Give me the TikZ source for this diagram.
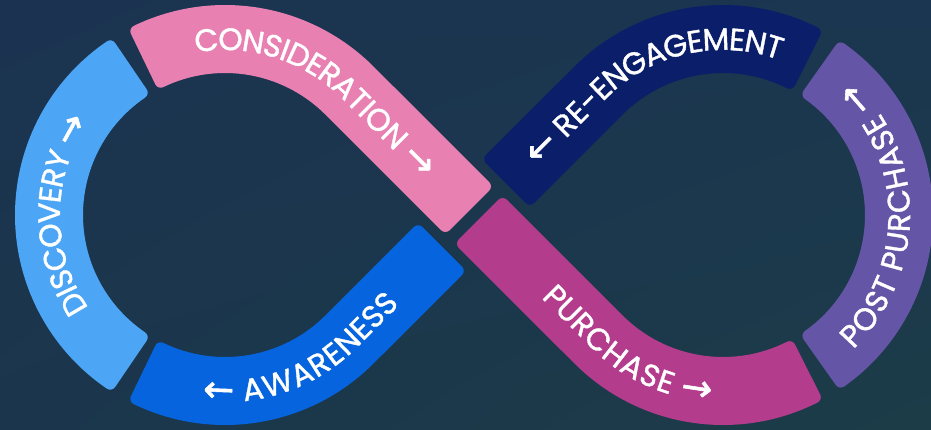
\documentclass[tikz,border=0pt]{standalone}
\usepackage{fontspec}
\setmainfont{Poppins}
\newfontfamily\bandfont{Poppins}[FakeBold=1.2]
\newfontfamily\arrowfont{DejaVu Sans}[FakeBold=1.5]
\usepackage{tikz}
\usetikzlibrary{calc}
\usetikzlibrary{shadings}
\usetikzlibrary{decorations.text}

\definecolor{bgtl}{RGB}{27,51,80}
\definecolor{bgtr}{RGB}{27,54,80}
\definecolor{bgbl}{RGB}{27,54,76}
\definecolor{bgbr}{RGB}{28,60,72}
\definecolor{discovery}{RGB}{76,166,245}
\definecolor{consideration}{RGB}{232,129,178}
\definecolor{awareness}{RGB}{6,100,222}
\definecolor{purchase}{RGB}{180,60,140}
\definecolor{reengage}{RGB}{10,30,106}
\definecolor{postpurchase}{RGB}{101,85,166}

\newcommand\lbl{\color{white}\fontsize{31}{31}\bandfont}
\newcommand\arr{\color{white}\fontsize{37}{37}\arrowfont}

\tikzset{
  band/.style={fill=#1,draw=#1,line width=12pt,line join=round},
  bandtext/.style={decorate,decoration={text along path,text align=center,raise=-11pt,text={#1}}}
}

\begin{document}
\begin{tikzpicture}[line cap=round,line join=round,x=1pt,y=1pt]
\useasboundingbox (-474,-214) rectangle (457,215);
\shade[upper left=bgtl,upper right=bgtr,lower left=bgbl,lower right=bgbr] (-474,-214) rectangle (457,215);
\coordinate (O) at (0,0);
\coordinate (L) at (-249,0);
\coordinate (R) at (249,0);
% left loop
\filldraw[band=discovery] ($(L)+(235.75:204)$) arc[start angle=235.75,end angle=124.25,radius=204]
  -- ($(L)+(124.25:148)$) arc[start angle=124.25,end angle=235.75,radius=148] -- cycle;
\filldraw[band=consideration] ($(L)+(115.75:204)$) arc[start angle=115.75,end angle=45,radius=204]
  -- ($(135:12.5)+(45:28)$) -- ($(135:12.5)+(225:28)$)
  -- ($(L)+(45:148)$) arc[start angle=45,end angle=115.75,radius=148] -- cycle;
\filldraw[band=awareness] ($(L)+(244.25:204)$) arc[start angle=244.25,end angle=315,radius=204]
  -- ($(225:51)+(-45:28)$) -- ($(225:51)+(135:28)$)
  -- ($(L)+(315:148)$) arc[start angle=315,end angle=244.25,radius=148] -- cycle;
% right loop
\filldraw[band=purchase] ($(-45:12.5)+(45:28)$) -- ($(R)+(225:148)$)
  arc[start angle=225,end angle=296.75,radius=148]
  -- ($(R)+(296.75:204)$) arc[start angle=296.75,end angle=225,radius=204]
  -- ($(-45:12.5)+(225:28)$) -- cycle;
\filldraw[band=postpurchase] ($(R)+(-54.75:148)$) arc[start angle=-54.75,end angle=54.75,radius=148]
  -- ($(R)+(54.75:204)$) arc[start angle=54.75,end angle=-54.75,radius=204] -- cycle;
\filldraw[band=reengage] ($(R)+(63.25:204)$) arc[start angle=63.25,end angle=135,radius=204]
  -- ($(45:51)+(135:28)$) -- ($(45:51)+(-45:28)$)
  -- ($(R)+(135:148)$) arc[start angle=135,end angle=63.25,radius=148] -- cycle;
% labels
\path[bandtext={|\lbl|DISCOVERY |\arr|→}] ($(L)+(240:176)$) arc[start angle=240,end angle=120,radius=176];
\path[bandtext={|\lbl|CONSIDERATION |\arr|→}] ($(L)+(120:176)$) arc[start angle=120,end angle=45,radius=176] -- (O);
\path[bandtext={|\arr|←|\lbl| AWARENESS}] ($(L)+(240:176)$) arc[start angle=240,end angle=315,radius=176] -- (225:45);
\path[bandtext={|\lbl|PURCHASE |\arr|→}] (O) -- ($(R)+(225:176)$) arc[start angle=225,end angle=301,radius=176];
\path[bandtext={|\lbl|POST PURCHASE |\arr|→}] ($(R)+(-59:176)$) arc[start angle=-59,end angle=59,radius=176];
\path[bandtext={|\arr|←|\lbl| RE-ENGAGEMENT}] (45:45) -- ($(R)+(135:176)$) arc[start angle=135,end angle=59,radius=176];
\end{tikzpicture}
\end{document}
